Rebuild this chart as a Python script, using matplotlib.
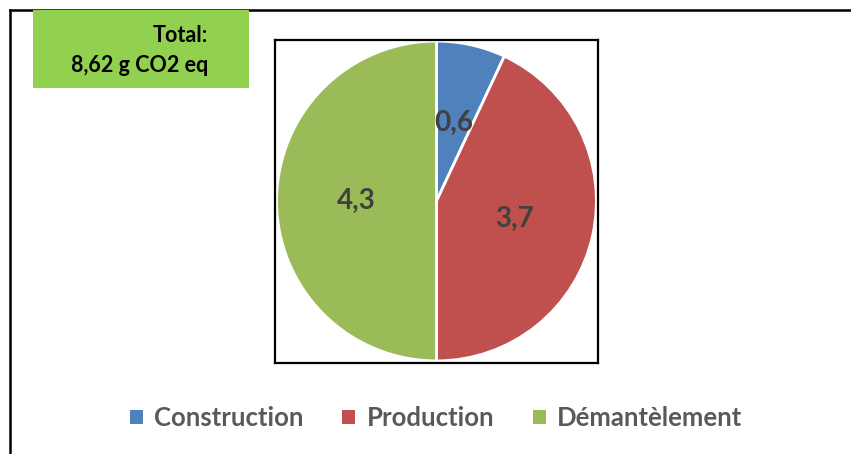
import matplotlib
matplotlib.use('Agg')
import matplotlib.pyplot as plt
from matplotlib.patches import Rectangle
from matplotlib.lines import Line2D

plt.rcParams['font.family'] = ['Lato', 'DejaVu Sans']

# data
categories = ['Construction', 'Production', 'Démantèlement']
values = [0.6, 3.7, 4.3]
colors = ['#4F81BD', '#C0504D', '#9BBB59']
total_label = '8,62 g CO2 eq'

W, H = 851, 454
fig = plt.figure(figsize=(W / 100, H / 100), dpi=100)
fig.patch.set_facecolor('white')

# outer chart border (top and left only visible)
fig.add_artist(Line2D([9.5 / W, 1], [1 - 10 / H, 1 - 10 / H], color='black', lw=1.8, zorder=1))
fig.add_artist(Line2D([9.5 / W, 9.5 / W], [0, 1 - 10 / H], color='black', lw=1.8, zorder=1))

# pie area
ax = fig.add_axes([275 / W, 1 - 363 / H, 323 / W, 324 / H])
wedges, texts, autotexts = ax.pie(
    values, colors=colors, startangle=90, counterclock=False,
    autopct=lambda p: f'{p * sum(values) / 100:.1f}'.replace('.', ','),
    pctdistance=0.5, radius=1.0,
    wedgeprops=dict(edgecolor='white', linewidth=2),
    textprops=dict(color='#404040', fontsize=20, fontweight='bold'))
ax.set_xlim(-1.01, 1.01)
ax.set_ylim(-1.01, 1.01)
ax.set_frame_on(True)
for s in ax.spines.values():
    s.set_color('black')
    s.set_linewidth(1.6)
ax.set_xticks([])
ax.set_yticks([])

# total box
fig.add_artist(Rectangle((33 / W, 1 - 88 / H), 216 / W, 78 / H,
                         facecolor='#92D050', edgecolor='none', zorder=3))
fig.text(208 / W, 1 - 35 / H, 'Total:', ha='right', va='center',
         fontsize=15.5, fontweight='bold', color='black', zorder=4)
fig.text(208 / W, 1 - 65 / H, total_label, ha='right', va='center',
         fontsize=15.5, fontweight='bold', color='black', zorder=4)

# legend
handles = [Rectangle((0, 0), 1, 1, facecolor=c, edgecolor='none') for c in colors]
leg = fig.legend(handles, categories, loc='center', bbox_to_anchor=(436 / W, 1 - 418 / H),
                 ncol=3, frameon=False, handlelength=0.5, handleheight=0.5,
                 handletextpad=0.45, columnspacing=1.5,
                 prop=dict(size=18.5, weight='bold'))
for t in leg.get_texts():
    t.set_color('#595959')

fig.savefig('out.png', dpi=100, facecolor='white')
